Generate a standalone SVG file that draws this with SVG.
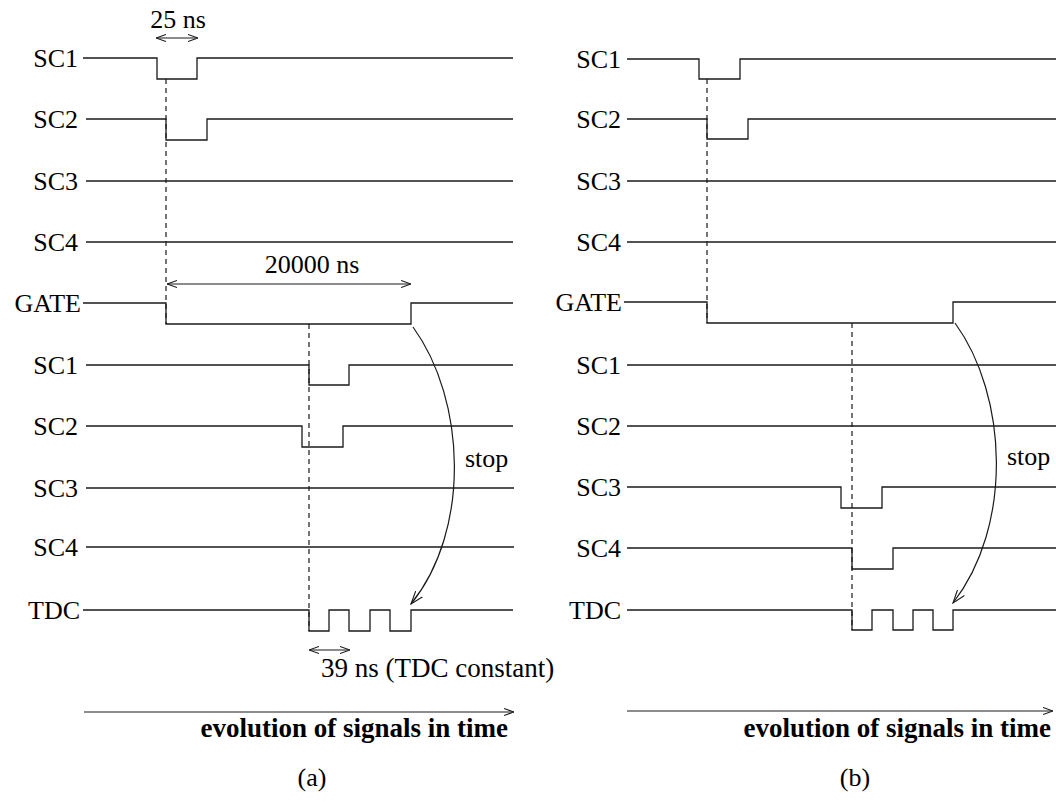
<svg xmlns="http://www.w3.org/2000/svg" width="1056" height="803" viewBox="0 0 1056 803">
<style>
.sig{fill:none;stroke:#1a1a1a;stroke-width:1.3}
.lbl{font-family:"Liberation Serif","Times New Roman",serif;font-size:26px;fill:#000}
.big{font-size:27px}
.r{text-anchor:end}
.m{text-anchor:middle}
.b{font-weight:bold}
.dash{fill:none;stroke:#1a1a1a;stroke-width:1.2;stroke-dasharray:5,4}
.con{fill:none;stroke:#1a1a1a;stroke-width:1.2}
</style>
<defs>
<marker id="ah" viewBox="0 0 10 8" refX="10" refY="4" markerWidth="10" markerHeight="8" markerUnits="userSpaceOnUse" orient="auto-start-reverse">
<path d="M0,0.5 L10,4 L0,7.5" fill="none" stroke="#1a1a1a" stroke-width="1.1"/>
</marker>
<marker id="ah2" viewBox="0 0 14 10" refX="13" refY="5" markerWidth="14" markerHeight="10" markerUnits="userSpaceOnUse" orient="auto">
<path d="M0,0.5 L13,5 L0,9.5" fill="none" stroke="#1a1a1a" stroke-width="1.1"/>
</marker>
</defs>
<rect width="1056" height="803" fill="#fff"/>

<!-- Panel (a) -->
<g id="a-sc1"><text class="lbl r" x="78" y="67">SC1</text><path class="sig" d="M83,58 H157 V79 H197 V58 H513"/></g>
<g id="a-sc2"><text class="lbl r" x="78" y="128">SC2</text><path class="sig" d="M86,119 H166 V140 H207 V119 H513"/></g>
<g id="a-sc3"><text class="lbl r" x="78" y="190">SC3</text><path class="sig" d="M86,181 H513"/></g>
<g id="a-sc4"><text class="lbl r" x="78" y="251">SC4</text><path class="sig" d="M86,242 H513"/></g>
<g id="a-gate"><text class="lbl r" x="81" y="312">GATE</text><path class="sig" d="M83,303 H166 V324 H411 V303 H513"/></g>
<g id="a-sc1b"><text class="lbl r" x="78" y="374">SC1</text><path class="sig" d="M86,365 H309 V385 H349 V365 H513"/></g>
<g id="a-sc2b"><text class="lbl r" x="78" y="435">SC2</text><path class="sig" d="M86,426 H302 V447 H343 V426 H513"/></g>
<g id="a-sc3b"><text class="lbl r" x="78" y="497">SC3</text><path class="sig" d="M86,488 H514"/></g>
<g id="a-sc4b"><text class="lbl r" x="78" y="556">SC4</text><path class="sig" d="M86,547 H514"/></g>
<g id="a-tdc"><text class="lbl r" x="80" y="619">TDC</text><path class="sig" d="M83,610 H309 V631 H329 V610 H349 V631 H370 V610 H390 V631 H411 V610 H513"/></g>

<!-- Panel (b) -->
<g id="b-sc1"><text class="lbl r" x="621" y="68">SC1</text><path class="sig" d="M627,59 H699 V79 H740 V59 H1056"/></g>
<g id="b-sc2"><text class="lbl r" x="621" y="128">SC2</text><path class="sig" d="M627,119 H707 V139 H748 V119 H1056"/></g>
<g id="b-sc3"><text class="lbl r" x="621" y="190">SC3</text><path class="sig" d="M627,181 H1056"/></g>
<g id="b-sc4"><text class="lbl r" x="621" y="251">SC4</text><path class="sig" d="M627,242 H1056"/></g>
<g id="b-gate"><text class="lbl r" x="622" y="311">GATE</text><path class="sig" d="M624,302 H707 V323 H953 V302 H1056"/></g>
<g id="b-sc1b"><text class="lbl r" x="621" y="374">SC1</text><path class="sig" d="M627,365 H1056"/></g>
<g id="b-sc2b"><text class="lbl r" x="621" y="435">SC2</text><path class="sig" d="M627,426 H1056"/></g>
<g id="b-sc3b"><text class="lbl r" x="621" y="496">SC3</text><path class="sig" d="M627,487 H841 V508 H882 V487 H1056"/></g>
<g id="b-sc4b"><text class="lbl r" x="621" y="557">SC4</text><path class="sig" d="M627,548 H852 V569 H893 V548 H1056"/></g>
<g id="b-tdc"><text class="lbl r" x="621" y="619">TDC</text><path class="sig" d="M627,610 H852 V630 H872 V610 H893 V630 H913 V610 H933 V630 H953 V610 H1056"/></g>

<!-- Connectors -->
<g id="connectors">
<line class="dash" x1="166" y1="79" x2="166" y2="324"/>
<line class="dash" x1="309" y1="324" x2="309" y2="631"/>
<line class="dash" x1="707" y1="79" x2="707" y2="323"/>
<line class="dash" x1="852" y1="323" x2="852" y2="630"/>
<line class="con" x1="156" y1="38" x2="198" y2="38" marker-start="url(#ah)" marker-end="url(#ah)"/>
<line class="con" x1="167" y1="284" x2="411" y2="284" marker-start="url(#ah)" marker-end="url(#ah)"/>
<line class="con" x1="309" y1="650" x2="350" y2="650" marker-start="url(#ah)" marker-end="url(#ah)"/>
<path class="con" d="M413,327 C466,400 471,530 411,604" marker-end="url(#ah2)"/>
<path class="con" d="M955,323 C1008,396 1013,526 953,603" marker-end="url(#ah2)"/>
<line class="con" x1="84" y1="712" x2="514" y2="712" marker-end="url(#ah)"/>
<line class="con" x1="627" y1="711" x2="1053" y2="711" marker-end="url(#ah)"/>
</g>

<!-- Labels -->
<text class="lbl m" x="178" y="28">25 ns</text>
<text class="lbl m" x="312" y="273">20000 ns</text>
<text class="lbl" x="465" y="467">stop</text>
<text class="lbl" x="1007" y="465">stop</text>
<text class="lbl big" x="321" y="677">39 ns (TDC constant)</text>
<text class="lbl big r b" x="508" y="737">evolution of signals in time</text>
<text class="lbl big r b" x="1051" y="737">evolution of signals in time</text>
<text class="lbl m" x="312" y="786">(a)</text>
<text class="lbl m" x="855" y="786">(b)</text>
</svg>
